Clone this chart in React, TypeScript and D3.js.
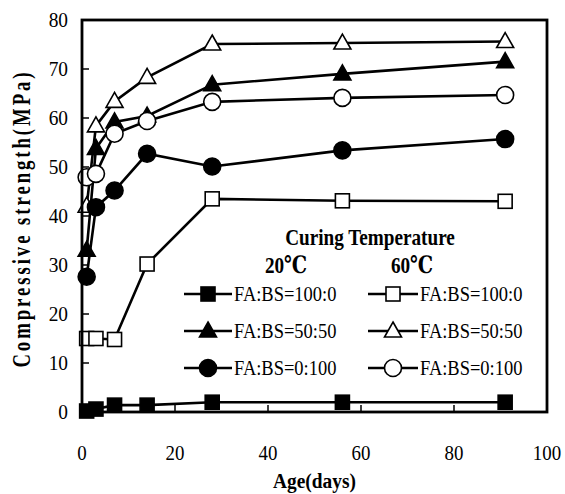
import React from "react";
import * as d3 from "d3";

// curing age (days)
const ages = [1, 3, 7, 14, 28, 56, 91];

// compressive strength (MPa) per mix and curing temperature
const fa100_20 = [0.2, 0.6, 1.4, 1.4, 2.0, 2.0, 2.0];
const fa100_60 = [15.0, 15.0, 14.8, 30.2, 43.5, 43.1, 43.0];
const fa50_20 = [33.0, 53.8, 59.2, 60.4, 66.8, 69.0, 71.5];
const fa50_60 = [42.0, 58.4, 63.4, 68.3, 75.1, 75.3, 75.6];
const fa0_20 = [27.6, 41.8, 45.2, 52.7, 50.1, 53.4, 55.7];
const fa0_60 = [47.9, 48.6, 56.8, 59.4, 63.3, 64.1, 64.7];

const xTicks = [0, 20, 40, 60, 80, 100];
const yTicks = [0, 10, 20, 30, 40, 50, 60, 70, 80];

type Shape = "square" | "triangle" | "circle";
interface Series {
    label: string;
    values: number[];
    shape: Shape;
    filled: boolean;
}

const series: Series[] = [
    { label: "FA:BS=100:0", values: fa100_20, shape: "square", filled: true },
    { label: "FA:BS=100:0", values: fa100_60, shape: "square", filled: false },
    { label: "FA:BS=50:50", values: fa50_20, shape: "triangle", filled: true },
    { label: "FA:BS=50:50", values: fa50_60, shape: "triangle", filled: false },
    { label: "FA:BS=0:100", values: fa0_20, shape: "circle", filled: true },
    { label: "FA:BS=0:100", values: fa0_60, shape: "circle", filled: false },
];

const W = 565;
const H = 494;
const plot = { left: 82, right: 547, top: 20, bottom: 412 };
const serif = "Liberation Serif, Times New Roman, DejaVu Serif, serif";

const Marker: React.FC<{ x: number; y: number; shape: Shape; filled: boolean }> = ({ x, y, shape, filled }) => {
    const fill = filled ? "#000" : "#fff";
    const sw = 1.6;
    if (shape === "square") {
        const s = 14;
        return <rect x={x - s / 2} y={y - s / 2} width={s} height={s} fill={fill} stroke="#000" strokeWidth={sw} />;
    }
    if (shape === "circle") {
        return <circle cx={x} cy={y} r={8.5} fill={fill} stroke="#000" strokeWidth={sw} />;
    }
    const w = 17, h = 15;
    const pts = `${x},${y - h * 0.6} ${x + w / 2},${y + h * 0.4} ${x - w / 2},${y + h * 0.4}`;
    return <polygon points={pts} fill={fill} stroke="#000" strokeWidth={sw} />;
};

// condensed serif text like the original figure
const Txt: React.FC<{ x: number; y: number; size: number; anchor?: string; bold?: boolean; sx?: number; children: React.ReactNode }> =
    ({ x, y, size, anchor = "start", bold = false, sx = 0.88, children }) => (
        <g transform={`translate(${x},${y}) scale(${sx},1)`}>
            <text x={0} y={0} style={{ fontFamily: serif, fontSize: size, fontWeight: bold ? "bold" : "normal" }}
                textAnchor={anchor as any} dominantBaseline="central" fill="#000">{children}</text>
        </g>
    );

export default function App() {
    const x = d3.scaleLinear().domain([0, 100]).range([plot.left, plot.right]);
    const y = d3.scaleLinear().domain([0, 80]).range([plot.bottom, plot.top]);

    const line = d3.line<number>()
        .x((_, i) => x(ages[i]))
        .y(d => y(d));

    // legend layout
    const rowY = [294, 331, 368];
    const cols = [
        { x1: 184, x2: 232, mx: 208, tx: 234 },
        { x1: 368, x2: 418, mx: 393, tx: 420 },
    ];

    return (
        <svg width={W} height={H} style={{ position: "absolute", left: 0, top: 0, background: "#fff" }}>
            {/* ticks */}
            {yTicks.slice(1, -1).map(t => (
                <line key={"yt" + t} x1={plot.left} x2={plot.left + 7} y1={y(t)} y2={y(t)} stroke="#000" strokeWidth={1.5} />
            ))}
            {xTicks.slice(1, -1).map(t => (
                <line key={"xt" + t} x1={x(t)} x2={x(t)} y1={plot.bottom} y2={plot.bottom - 7} stroke="#000" strokeWidth={1.5} />
            ))}

            {/* series */}
            {series.map((s, si) => (
                <g key={si}>
                    <path d={line(s.values) || ""} fill="none" stroke="#000" strokeWidth={2.6} />
                    {s.values.map((v, i) => (
                        <Marker key={i} x={x(ages[i])} y={y(v)} shape={s.shape} filled={s.filled} />
                    ))}
                </g>
            ))}

            {/* frame */}
            <rect x={plot.left} y={plot.top} width={plot.right - plot.left} height={plot.bottom - plot.top}
                fill="none" stroke="#000" strokeWidth={2.8} />

            {/* tick labels */}
            {yTicks.map(t => (
                <Txt key={"yl" + t} x={68} y={y(t)} size={22} anchor="end" sx={0.88}>{t}</Txt>
            ))}
            {xTicks.map(t => (
                <Txt key={"xl" + t} x={x(t)} y={453} size={21} anchor="middle" sx={0.9}>{t}</Txt>
            ))}

            {/* axis titles */}
            <Txt x={(plot.left + plot.right) / 2} y={481} size={22} anchor="middle" bold sx={0.88}>Age(days)</Txt>
            <g transform={`translate(21,220) rotate(-90) scale(0.72,1)`}>
                <text x={0} y={0} style={{ fontFamily: serif, fontSize: 26, fontWeight: "bold" }} textAnchor="middle"
                    dominantBaseline="central" textLength={410} lengthAdjust="spacing">Compressive strength(MPa)</text>
            </g>

            {/* legend */}
            <Txt x={370} y={237} size={24} anchor="middle" bold sx={0.8}>Curing Temperature</Txt>
            <Txt x={286} y={265} size={24} anchor="middle" bold sx={0.8}>20℃</Txt>
            <Txt x={412} y={265} size={24} anchor="middle" bold sx={0.8}>60℃</Txt>
            {series.map((s, si) => {
                const c = cols[si % 2];
                const ry = rowY[Math.floor(si / 2)];
                return (
                    <g key={"lg" + si}>
                        <line x1={c.x1} x2={c.x2} y1={ry} y2={ry} stroke="#000" strokeWidth={2.6} />
                        <Marker x={c.mx} y={ry} shape={s.shape} filled={s.filled} />
                        <Txt x={c.tx} y={ry} size={21} anchor="start">{s.label}</Txt>
                    </g>
                );
            })}
        </svg>
    );
}
